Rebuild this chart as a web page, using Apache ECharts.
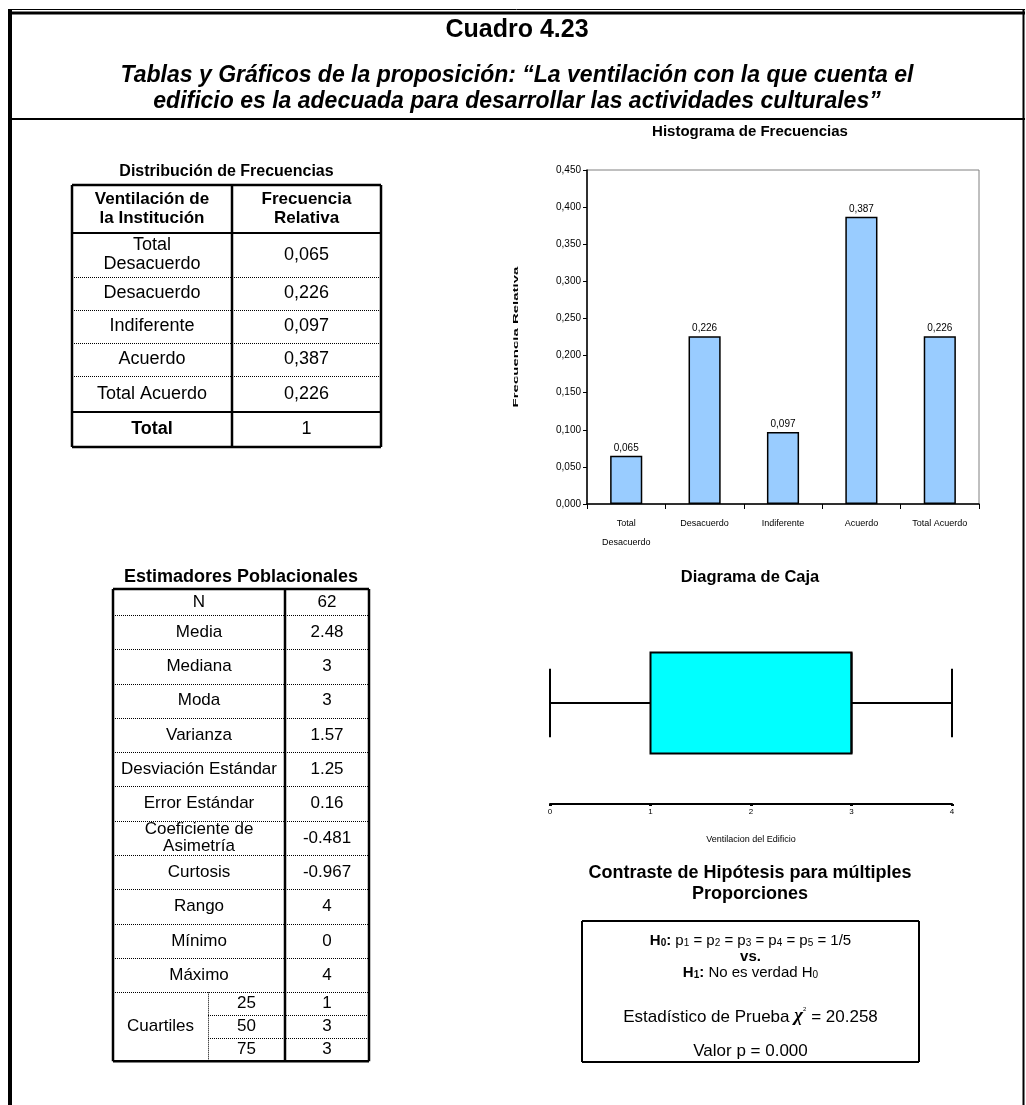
<!DOCTYPE html>
<html><head><meta charset="utf-8">
<script src="https://cdn.jsdelivr.net/npm/echarts@6/dist/echarts.min.js"></script>
<style>html,body{margin:0;padding:0;background:#fff}#c{width:1026px;height:1105px}</style>
</head><body><div id="c"></div>
<script>
// ---------- data ----------
const categories = ['Total\nDesacuerdo', 'Desacuerdo', 'Indiferente', 'Acuerdo', 'Total Acuerdo'];
const relFreq = [0.065, 0.226, 0.097, 0.387, 0.226];
const freqTableLabels = ['Total\nDesacuerdo', 'Desacuerdo', 'Indiferente', 'Acuerdo', 'Total Acuerdo'];
const freqTableValues = ['0,065', '0,226', '0,097', '0,387', '0,226'];
const freqTotalLabel = 'Total';
const freqTotalValue = '1';
const yAxisMin = 0, yAxisMax = 0.45, yAxisStep = 0.05;
const yAxisTitle = 'Frecuencia Relativa';
const boxStats = [0, 1, 3, 3, 4]; // min, Q1, median, Q3, max
const boxAxisMin = 0, boxAxisMax = 4, boxAxisStep = 1;
const estLabels = ['N', 'Media', 'Mediana', 'Moda', 'Varianza', 'Desviación Estándar', 'Error Estándar', 'Coeficiente de\nAsimetría', 'Curtosis', 'Rango', 'Mínimo', 'Máximo'];
const estValues = ['62', '2.48', '3', '3', '1.57', '1.25', '0.16', '-0.481', '-0.967', '4', '0', '4'];
const quartileLabels = ['25', '50', '75'];
const quartileValues = ['1', '3', '3'];
const chiSquare = '20.258';
const pValue = '0.000';

// ---------- helpers ----------
const FF = '"Liberation Sans", Arial, Helvetica, sans-serif';
function font(size, weight, style) { return (style || 'normal') + ' ' + (weight || 'normal') + ' ' + size + 'px ' + FF; }
function T(x, y, text, size, weight, style, extra) {
  const s = Object.assign({ x: x, y: y, text: text, font: font(size, weight, style), fill: '#000',
    align: 'center', verticalAlign: 'middle', textAlign: 'center', textVerticalAlign: 'middle', lineHeight: Math.round(size * 1.2) }, extra || {});
  return { type: 'text', silent: true, z: 10, style: s };
}
function L(x1, y1, x2, y2, w, dash) {
  return { type: 'line', silent: true, z: 10, shape: { x1: x1, y1: y1, x2: x2, y2: y2 },
    style: { stroke: '#000', lineWidth: w, lineDash: dash ? [1, 1] : null } };
}
const G = [];

// ---------- page frame ----------
G.push(L(8, 9.5, 1025, 9.5, 1));
G.push(L(8, 13, 1025, 13, 3));
G.push(L(10, 9, 10, 1105, 4));
G.push(L(1023.5, 9, 1023.5, 1105, 2));
G.push(L(8, 119, 1025, 119, 2));
G.push(T(517, 30, 'Cuadro 4.23', 25, 'bold'));
G.push(T(517, 76, 'Tablas y Gráficos de la proposición: “La ventilación con la que cuenta el', 23, 'bold', 'italic'));
G.push(T(517, 102, 'edificio es la adecuada para desarrollar las actividades culturales”', 23, 'bold', 'italic'));

// ---------- frequency table ----------
(function () {
  const xl = 72, xr = 381, xm = 232;
  const top = 185, hb = 233;
  const rowLines = [277, 310, 343, 376];
  const thick = 412, bottom = 447;
  G.push(T((xl + xr) / 2, 172, 'Distribución de Frecuencias', 16, 'bold'));
  G.push(L(xl, top, xr, top, 2.5));
  G.push(L(xl, bottom, xr, bottom, 2.5));
  G.push(L(xl, top, xl, bottom, 2.5));
  G.push(L(xr, top, xr, bottom, 2.5));
  G.push(L(xm, top, xm, bottom, 2.5));
  G.push(L(xl, hb, xr, hb, 2));
  G.push(L(xl, thick, xr, thick, 2));
  rowLines.forEach(function (y) { G.push(L(xl, y + 0.5, xr, y + 0.5, 1, true)); });
  const c1 = (xl + xm) / 2, c2 = (xm + xr) / 2;
  G.push(T(c1, (top + hb) / 2, 'Ventilación de\nla Institución', 17, 'bold', null, { lineHeight: 19 }));
  G.push(T(c2, (top + hb) / 2, 'Frecuencia\nRelativa', 17, 'bold', null, { lineHeight: 19 }));
  const edges = [hb].concat(rowLines).concat([thick]);
  freqTableLabels.forEach(function (lab, i) {
    const yc = (edges[i] + edges[i + 1]) / 2;
    G.push(T(c1, yc, lab, 18, 'normal', null, { lineHeight: 19 }));
    G.push(T(c2, yc, freqTableValues[i], 18));
  });
  G.push(T(c1, (thick + bottom) / 2, freqTotalLabel, 18, 'bold'));
  G.push(T(c2, (thick + bottom) / 2, freqTotalValue, 18));
})();

// ---------- estimators table ----------
(function () {
  const xl = 113, xr = 369, xm = 285, xs = 208;
  const top = 589;
  const edges = [top, top + 26];
  for (let i = 1; i < estLabels.length; i++) edges.push(edges[edges.length - 1] + 34.3);
  const qStart = edges[edges.length - 1];
  const qEdges = [qStart, qStart + 23, qStart + 46, qStart + 69];
  const bottom = qEdges[3];
  G.push(T((xl + xr) / 2, 577, 'Estimadores Poblacionales', 18, 'bold'));
  G.push(L(xl, top, xr, top, 2.5));
  G.push(L(xl, bottom, xr, bottom, 2.5));
  G.push(L(xl, top, xl, bottom, 2.5));
  G.push(L(xr, top, xr, bottom, 2.5));
  G.push(L(xm, top, xm, bottom, 2.5));
  for (let i = 1; i < edges.length; i++) G.push(L(xl, Math.round(edges[i]) + 0.5, xr, Math.round(edges[i]) + 0.5, 1, true));
  G.push(L(xs + 0.5, qStart, xs + 0.5, bottom, 1, true));
  G.push(L(xs, Math.round(qEdges[1]) + 0.5, xr, Math.round(qEdges[1]) + 0.5, 1, true));
  G.push(L(xs, Math.round(qEdges[2]) + 0.5, xr, Math.round(qEdges[2]) + 0.5, 1, true));
  const c1 = (xl + xm) / 2, c2 = (xm + xr) / 2;
  estLabels.forEach(function (lab, i) {
    const yc = (edges[i] + edges[i + 1]) / 2;
    G.push(T(c1, yc, lab, 17, 'normal', null, { lineHeight: 17 }));
    G.push(T(c2, yc, estValues[i], 17));
  });
  G.push(T((xl + xs) / 2, (qStart + bottom) / 2, 'Cuartiles', 17));
  quartileLabels.forEach(function (lab, i) {
    const yc = (qEdges[i] + qEdges[i + 1]) / 2;
    G.push(T((xs + xm) / 2, yc, lab, 17));
    G.push(T(c2, yc, quartileValues[i], 17));
  });
})();

// ---------- section titles ----------
G.push(T(750, 132, 'Histograma de Frecuencias', 15, 'bold'));
G.push(T(750, 577, 'Diagrama de Caja', 16.5, 'bold'));
G.push(T(750, 873, 'Contraste de Hipótesis para múltiples', 18, 'bold'));
G.push(T(750, 894, 'Proporciones', 18, 'bold'));

// histogram y-axis title (compressed bold, as in the reference)
G.push({ type: 'text', silent: true, z: 10, x: 516, y: 337, rotation: Math.PI / 2, scaleX: 1, scaleY: 0.5,
  style: { x: 0, y: 0, text: yAxisTitle, font: font(15, 'bold'), fill: '#000',
    align: 'center', verticalAlign: 'middle', textAlign: 'center', textVerticalAlign: 'middle' } });

// ---------- hypothesis box ----------
(function () {
  const xl = 582, xr = 919, top = 921, bottom = 1062;
  G.push(L(xl, top, xr, top, 2));
  G.push(L(xl, bottom, xr, bottom, 2));
  G.push(L(xl, top, xl, bottom, 2));
  G.push(L(xr, top, xr, bottom, 2));
  const cx = (xl + xr) / 2;
  const rich = {
    n: { font: font(15), verticalAlign: 'bottom', lineHeight: 17 },
    b: { font: font(15, 'bold'), verticalAlign: 'bottom', lineHeight: 17 },
    s: { font: font(10), verticalAlign: 'bottom', lineHeight: 15 },
    bs: { font: font(10, 'bold'), verticalAlign: 'bottom', lineHeight: 15 },
    n2: { font: font(17), verticalAlign: 'bottom', lineHeight: 19 },
    chi: { font: 'italic bold 19px "Liberation Serif", "Times New Roman", serif', verticalAlign: 'bottom', lineHeight: 19 },
    sup: { font: font(6), verticalAlign: 'top', lineHeight: 19 }
  };
  function R(y, txt) {
    return { type: 'text', silent: true, z: 10, style: { x: cx, y: y, text: txt, rich: rich, fill: '#000',
      align: 'center', verticalAlign: 'middle', textAlign: 'center', textVerticalAlign: 'middle' } };
  }
  G.push(R(940, '{b|H}{bs|0}{b|:}{n| p}{s|1}{n| = p}{s|2}{n| = p}{s|3}{n| = p}{s|4}{n| = p}{s|5}{n| = 1/5}'));
  G.push(R(956, '{b|vs.}'));
  G.push(R(972, '{b|H}{bs|1}{b|:}{n| No es verdad H}{s|0}'));
  G.push(R(1016, '{n2|Estadístico de Prueba }{chi|χ}{sup|2}{n2| = ' + chiSquare + '}'));
  G.push(R(1050, '{n2|Valor p = ' + pValue + '}'));
})();

// ---------- chart ----------
const chart = echarts.init(document.getElementById('c'), null, { renderer: 'canvas' });
function comma(v, d) { return v.toFixed(d).replace('.', ','); }
chart.setOption({
  animation: false,
  backgroundColor: '#fff',
  grid: [
    { left: 587, top: 170, width: 392, height: 334, show: true, borderColor: '#808080', borderWidth: 1, backgroundColor: 'transparent' },
    { left: 550, top: 602, width: 402, height: 202 }
  ],
  xAxis: [
    { type: 'category', gridIndex: 0, data: categories,
      axisLine: { lineStyle: { color: '#000', width: 1.5 } },
      axisTick: { show: true, length: 5, lineStyle: { color: '#000' } },
      axisLabel: { color: '#000', fontSize: 9, fontFamily: FF, margin: 10, lineHeight: 19, interval: 0 } },
    { type: 'value', gridIndex: 1, min: boxAxisMin, max: boxAxisMax, interval: boxAxisStep,
      splitLine: { show: false },
      axisLine: { lineStyle: { color: '#000', width: 2 } },
      axisTick: { show: true, length: 2, lineStyle: { color: '#000', width: 3 } },
      axisLabel: { color: '#000', fontSize: 8, fontFamily: FF, margin: 4 },
      name: 'Ventilacion del Edificio', nameLocation: 'middle', nameGap: 31,
      nameTextStyle: { color: '#000', fontSize: 9, fontFamily: FF } }
  ],
  yAxis: [
    { type: 'value', gridIndex: 0, min: yAxisMin, max: yAxisMax, interval: yAxisStep,
      splitLine: { show: false },
      axisLine: { show: true, lineStyle: { color: '#000', width: 1.5 } },
      axisTick: { show: true, length: 4, lineStyle: { color: '#000' } },
      axisLabel: { color: '#000', fontSize: 10, fontFamily: FF, margin: 6, formatter: function (v) { return comma(v, 3); } } },
    { type: 'value', gridIndex: 1, min: 0, max: 1, show: false }
  ],
  series: [
    { type: 'bar', xAxisIndex: 0, yAxisIndex: 0, data: relFreq, barWidth: '41%',
      itemStyle: { color: '#99CCFF', borderColor: '#000', borderWidth: 1.5 },
      label: { show: true, position: 'top', distance: 3, color: '#000', fontSize: 10, fontFamily: FF,
        formatter: function (p) { return comma(p.value, 3); } } },
    { type: 'custom', xAxisIndex: 1, yAxisIndex: 1,
      data: [boxStats],
      encode: { x: [0, 1, 2, 3, 4] },
      renderItem: function (params, api) {
        const v = [0, 1, 2, 3, 4].map(function (i) { return api.value(i); });
        const px = v.map(function (x) { return api.coord([x, 0.5])[0]; });
        const yc = api.coord([0, 0.5])[1];
        const bt = api.coord([0, 0.75])[1], bb = api.coord([0, 0.25])[1];
        const ct = api.coord([0, 0.67])[1], cb = api.coord([0, 0.33])[1];
        const ls = { stroke: '#000', lineWidth: 2 };
        return { type: 'group', children: [
          { type: 'line', shape: { x1: px[0], y1: yc, x2: px[1], y2: yc }, style: ls },
          { type: 'line', shape: { x1: px[3], y1: yc, x2: px[4], y2: yc }, style: ls },
          { type: 'line', shape: { x1: px[0], y1: ct, x2: px[0], y2: cb }, style: ls },
          { type: 'line', shape: { x1: px[4], y1: ct, x2: px[4], y2: cb }, style: ls },
          { type: 'rect', shape: { x: px[1], y: bt, width: px[3] - px[1], height: bb - bt }, style: { fill: '#00FFFF', stroke: '#000', lineWidth: 2 } },
          { type: 'line', shape: { x1: px[2], y1: bt, x2: px[2], y2: bb }, style: ls }
        ] };
      } }
  ],
  graphic: { elements: G }
});
</script></body></html>
